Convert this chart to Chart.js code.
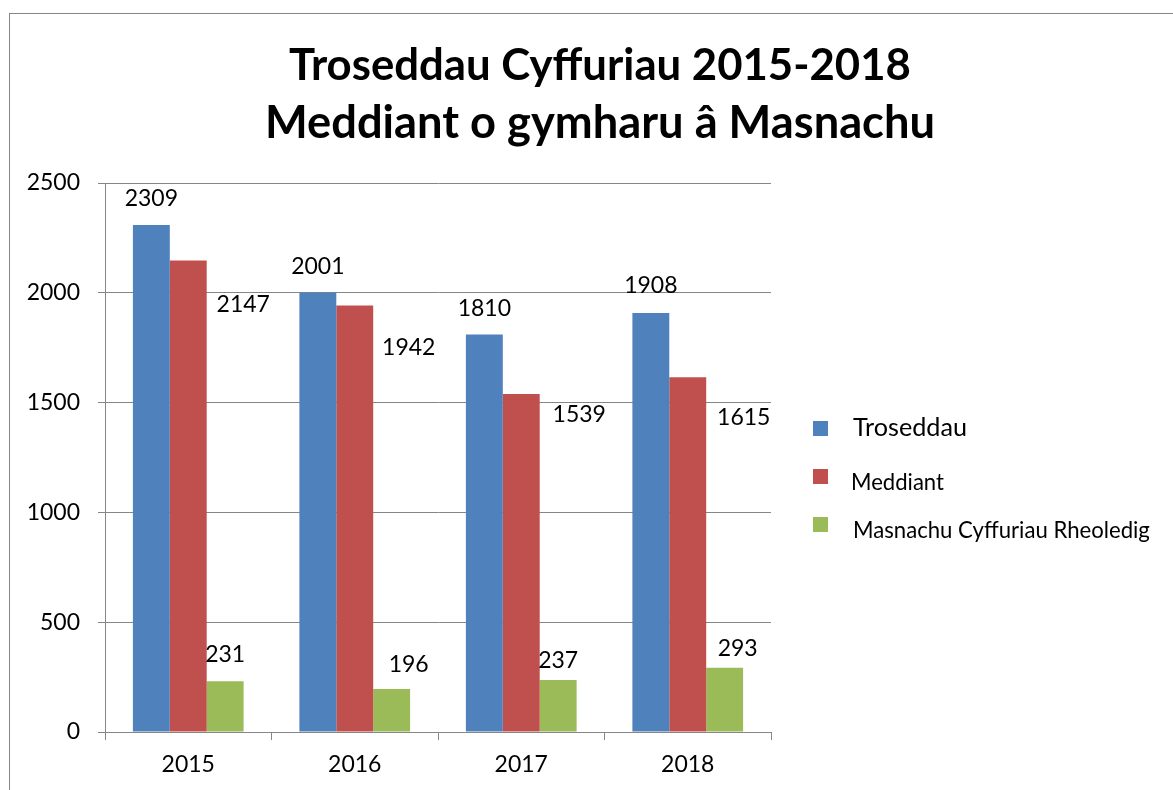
<!DOCTYPE html>
<html>
<head>
<meta charset="utf-8">
<script src="https://cdn.jsdelivr.net/npm/chart.js@4"></script>
<style>
  body { margin: 0; background: #fff; }
  #wrap { position: relative; width: 1173px; height: 790px; overflow: hidden; }
  #frame { position: absolute; left: 9px; top: 13px; width: 1300px; height: 900px;
           border-left: 1.5px solid #868686; border-top: 1.5px solid #868686; }
  canvas { position: absolute; left: 0; top: 0; }
</style>
</head>
<body>
<div id="wrap">
  <div id="frame"></div>
  <canvas id="myChart" width="1173" height="790"></canvas>
</div>
<script>
// chart data
const years = ['2015', '2016', '2017', '2018'];
const troseddau = [2309, 2001, 1810, 1908];
const meddiant = [2147, 1942, 1539, 1615];
const masnachu = [231, 196, 237, 293];
const seriesNames = ['Troseddau', 'Meddiant', 'Masnachu Cyffuriau Rheoledig'];
const yTicks = [0, 500, 1000, 1500, 2000, 2500];
const titleLines = ['Troseddau Cyffuriau 2015-2018', 'Meddiant o gymharu â Masnachu'];

// where Excel put each value label, relative to the top of its bar
const labelNudge = [
    [[0, -26], [0, -26], [0, -26], [0, -27]],
    [[55, 44], [54, 42], [58, 21], [56, 40]],
    [[0, -27], [17, -24], [0, -19], [13, -19]]
];

const FONT = 'Lato, "Open Sans", sans-serif';
const gridGrey = '#868686';

function fitSize(ctx, text, weight, width) {
    ctx.font = weight + ' 100px ' + FONT;
    return 100 * width / ctx.measureText(text).width;
}

// title, legend and value labels drawn by hand to match the Excel layout
const excelBits = {
    id: 'excelBits',
    afterDatasetsDraw(chart) {
        const ctx = chart.ctx;
        ctx.save();
        ctx.fillStyle = '#000';

        // value labels
        ctx.textAlign = 'center';
        ctx.textBaseline = 'middle';
        ctx.font = '23px ' + FONT;
        chart.data.datasets.forEach((ds, i) => {
            chart.getDatasetMeta(i).data.forEach((bar, j) => {
                const n = labelNudge[i][j];
                ctx.fillText(String(ds.data[j]), bar.x + n[0], bar.y + n[1]);
            });
        });

        // title
        ctx.textBaseline = 'alphabetic';
        const t1 = fitSize(ctx, titleLines[0], 'bold', 622);
        ctx.font = 'bold ' + t1 + 'px ' + FONT;
        ctx.fillText(titleLines[0], 600, 80);
        const t2 = fitSize(ctx, titleLines[1], 'bold', 670);
        ctx.font = 'bold ' + t2 + 'px ' + FONT;
        ctx.fillText(titleLines[1], 600, 138);

        // legend
        const rows = [
            { sq: 421, base: 436, tx: 853, w: 114 },
            { sq: 469, base: 490, tx: 851, w: 93 },
            { sq: 517, base: 538, tx: 853, w: 297 }
        ];
        ctx.textAlign = 'left';
        chart.data.datasets.forEach((ds, i) => {
            const r = rows[i];
            ctx.fillStyle = ds.backgroundColor;
            ctx.fillRect(813, r.sq, 15, 15);
            ctx.fillStyle = '#000';
            const s = fitSize(ctx, ds.label, 'normal', r.w);
            ctx.font = s + 'px ' + FONT;
            ctx.fillText(ds.label, r.tx, r.base);
        });
        ctx.restore();
    }
};

const ctx = document.getElementById('myChart').getContext('2d');
window.myChart = new Chart(ctx, {
    type: 'bar',
    data: {
        labels: years,
        datasets: [
            { label: seriesNames[0], data: troseddau, backgroundColor: '#4F81BD' },
            { label: seriesNames[1], data: meddiant, backgroundColor: '#C0504D' },
            { label: seriesNames[2], data: masnachu, backgroundColor: '#9BBB59' }
        ]
    },
    options: {
        responsive: false,
        animation: false,
        layout: { padding: { left: 0, top: 183, right: 402, bottom: 0 } },
        datasets: {
            bar: { categoryPercentage: 0.665, barPercentage: 1.0, borderWidth: 0 }
        },
        plugins: {
            legend: { display: false },
            title: { display: false },
            tooltip: { enabled: false }
        },
        scales: {
            x: {
                afterFit: s => { s.height = 58; },
                grid: {
                    offset: true,
                    drawOnChartArea: false,
                    tickLength: 8,
                    color: gridGrey
                },
                border: { color: gridGrey },
                ticks: { color: '#000', font: { family: FONT, size: 23 }, padding: 11 }
            },
            y: {
                min: 0,
                max: 2500,
                afterFit: s => { s.width = 105; },
                afterBuildTicks: s => { s.ticks = yTicks.map(v => ({ value: v })); },
                grid: { color: gridGrey, tickLength: 7 },
                border: { color: gridGrey },
                ticks: {
                    color: '#000',
                    font: { family: FONT, size: 23 },
                    padding: 18,
                    callback: v => String(v)
                }
            }
        }
    },
    plugins: [excelBits]
});
</script>
</body>
</html>
